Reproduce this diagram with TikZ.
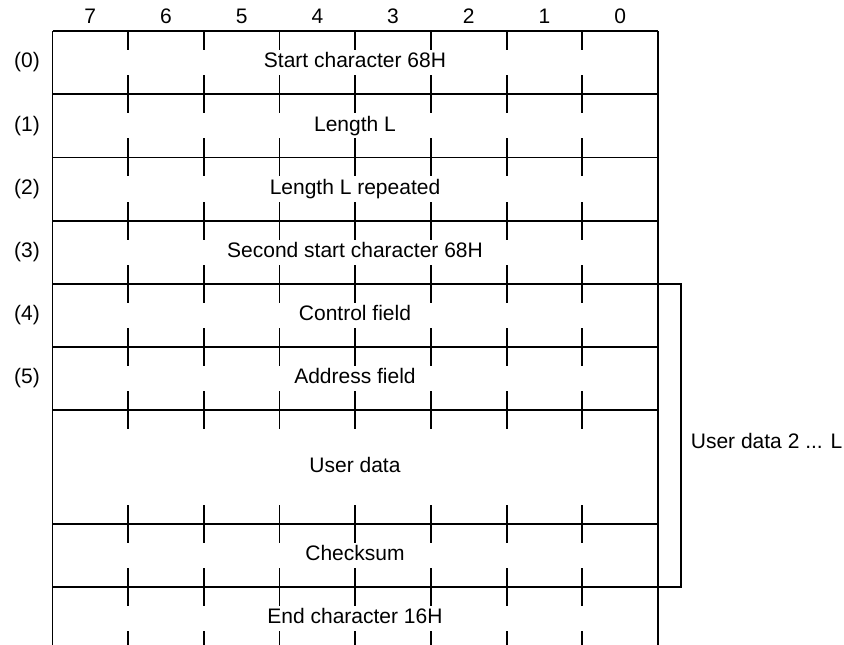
\documentclass[tikz,border=0pt]{standalone}
\usepackage{fontspec}
\setmainfont{Liberation Sans}
\usetikzlibrary{positioning,calc}

\begin{document}
\begin{tikzpicture}[x=1pt, y=-1pt, line width=1.8pt,
		every node/.style={font=\fontsize{21}{25}\selectfont, inner sep=0pt, text height=15pt, text depth=4.5pt},
		field/.style={anchor=center},
		bit/.style={anchor=center},
		bitmark/.style={line width=1.8pt}]
	\useasboundingbox (0,0) rectangle (844,645);
	\clip (0,0) rectangle (844,645);
	% frame and row lines
	\draw (52.5,31) -- (52.5,660) (658,31) -- (658,660);
	\foreach \y in {31,94.2,157.4,220.6,283.8,347,410.2,524,587}
		\draw (52.5,\y) -- (658,\y);
	% bit marks in every row
	\foreach \top/\bot in {31/94.2, 94.2/157.4, 157.4/220.6, 220.6/283.8, 283.8/347, 347/410.2, 410.2/524, 524/587, 587/650}
		\foreach \i in {1,...,7}
			\draw[bitmark] ({52.5+75.69*\i},\top) -- ++(0,19) ({52.5+75.69*\i},\bot) -- ++(0,-19);
	% bit numbers
	\foreach \b [count=\i from 0] in {7,6,5,4,3,2,1,0}
		\node[bit] (b\b) at ({90.3+75.69*\i},18) {\b};
	% byte numbers
	\foreach \r/\y in {0/62.6, 1/125.8, 2/189, 3/252.2, 4/315.4, 5/378.6}
		\node (r\r) at (27,\y) {(\r)};
	% fields
	\node[field] (start) at (355,62.6) {Start character 68H};
	\node[field] (len) at (355,125.8) {Length L};
	\node[field] (lenrep) at (355,189) {Length L repeated};
	\node[field] (start2) at (355,252.2) {Second start character 68H};
	\node[field] (ctrl) at (355,315.4) {Control field};
	\node[field] (addr) at (355,378.6) {Address field};
	\node[field] (data) at (355,467) {User data};
	\node[field] (csum) at (355,555.5) {Checksum};
	\node[field] (stop) at (355,618.5) {End character 16H};
	% bracket for user data
	\coordinate (udtop) at (658,283.8);
	\coordinate (udcorner) at (681,283.8);
	\coordinate (udbot) at (658,587);
	\draw (udtop) -- (udcorner) |- (udbot);
	\node[anchor=west] (udlabel) at (690,443) {User data 2 ... L};
\end{tikzpicture}
\end{document}
